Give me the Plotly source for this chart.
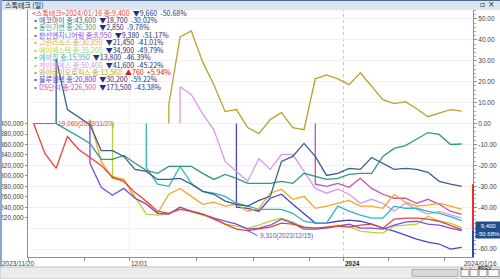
import plotly.graph_objects as go

# ---------------- data ----------------
dates = ["2023-11-20","2023-11-21","2023-11-22","2023-11-23","2023-11-24","2023-11-27","2023-11-28",
         "2023-11-29","2023-11-30","2023-12-01","2023-12-04","2023-12-05","2023-12-06","2023-12-07",
         "2023-12-08","2023-12-11","2023-12-12","2023-12-13","2023-12-14","2023-12-15","2023-12-18",
         "2023-12-19","2023-12-20","2023-12-21","2023-12-22","2023-12-26","2023-12-27","2023-12-28",
         "2024-01-02","2024-01-03","2024-01-04","2024-01-05","2024-01-08","2024-01-09","2024-01-10",
         "2024-01-11","2024-01-12","2024-01-15","2024-01-16"]

names = ["스톡테크", "에코마이", "동인기연", "한선엔지니어링", "그린리소스", "에이에스텍",
         "에이칩", "케이엔에스", "와이바이오로직스", "블루엠텍", "DS단석"]
colors = ["#e8413c", "#3d5c8f", "#2f9b7d", "#7a4fe0", "#f5a623", "#b5d334",
          "#2eb5c4", "#d89ae6", "#b9a32c", "#4646c8", "#c44fb5"]
closes = ["9,400", "43,600", "26,300", "8,950", "30,850", "35,200",
          "15,950", "50,400", "13,560", "20,800", "226,500"]
changes = ["▼9,660", "▼18,700", "▼2,850", "▼9,380", "▼21,450", "▼34,900",
           "▼13,800", "▼41,600", "▲760", "▼30,200", "▼173,500"]
pct_text = ["-50.68%", "-30.02%", "-9.78%", "-51.17%", "-41.01%", "-49.79%",
            "-46.39%", "-45.22%", "+5.94%", "-59.22%", "-43.38%"]

# percent change from each stock's base (first day in window = 0%)
stocktech = [0, -14.3, -21.4, -6.2, -12.4, -16.0, -20.0, -25.6, -27.6, -32.9, -37.1, -41.9, -42.9,
             -41.0, -41.9, -43.3, -45.7, -48.1, -50.5, -51.2, -50.5, -49.5, -47.6, -48.1, -49.5,
             -50.0, -49.5, -49.0, -49.5, -48.6, -48.1, -50.0, -45.7, -45.2, -45.2, -45.7, -46.7,
             -48.6, -50.68]
ecomai = [None, None, 31.0, 6.7, 3.3, -0.5, -12.9, -12.9, -15.7, -21.9, -22.9, -26.7, -26.7, -26.2,
          -29.0, -32.4, -33.8, -37.1, -38.6, -39.5, -36.7, -34.8, -18.1, -15.7, -9.5, -15.7, -24.8,
          -23.8, -21.4, -21.9, -16.2, -19.0, -21.9, -21.4, -21.9, -23.3, -27.6, -29.0, -30.02]
dongin = [None, None, 0.0, -2.9, -6.2, -9.5, -17.1, -17.1, -15.2, -19.0, -22.4, -23.8, -20.5, -20.5,
          -20.5, -23.8, -26.7, -24.3, -26.2, -28.6, -28.6, -28.6, -27.6, -28.6, -23.8, -25.2, -26.7,
          -26.2, -24.3, -23.8, -23.8, -15.7, -11.9, -10.5, -7.6, -4.3, -5.2, -10.0, -9.78]
hanseon = [None]*5 + [-19.0, -30.5, -34.3, -31.0, -35.7, -38.6, -42.9, -43.3, -40.0, -41.9, -43.3,
                      -45.2, -46.7, -48.1, -50.5, -50.0, -48.6, -45.7, -47.6, -50.5, -50.5, -50.0,
                      -49.0, -48.1, -50.0, -50.0, -50.5, -48.6, -47.1, -46.7, -48.1, -48.6, -50.0, -51.17]
green = [None]*5 + [2.0, -18.1, -26.2, -26.7, -35.7, -38.1, -42.9, -33.8, -31.0, -34.8, -38.6, -37.6,
                    -39.5, -38.6, -41.9, -40.5, -33.3, -31.4, -36.2, -34.8, -40.5, -39.5, -38.1, -36.7,
                    -39.5, -39.5, -40.5, -33.8, -37.6, -39.5, -39.0, -38.1, -39.5, -41.01]
astec = [None]*7 + [-25.2, -26.7, -35.2, -43.3, -43.8, -43.3, -40.0, -42.4, -43.8, -45.2, -48.1, -49.0,
                    -50.0, -48.6, -46.7, -45.2, -47.1, -49.5, -50.0, -49.5, -48.6, -49.0, -51.4, -52.0,
                    -52.4, -49.0, -48.6, -48.1, -44.3, -46.7, -47.6, -49.79]
achip = [None]*10 + [-21.0, -29.0, -30.0, -20.5, -28.6, -32.4, -33.3, -34.8, -38.1, -39.5, -41.0, -41.0,
                     -41.0, -42.9, -46.7, -47.6, -47.6, -39.5, -41.9, -43.8, -45.2, -45.2, -39.5, -40.5,
                     -40.5, -42.0, -42.9, -44.5, -46.39]
kns = [None]*13 + [17.6, 13.8, 4.8, -3.0, -18.1, -22.9, -27.6, -16.7, -21.9, -14.8, -14.8, -22.9, -31.0,
                   -33.3, -31.4, -33.8, -38.1, -36.2, -38.1, -41.9, -38.1, -41.0, -43.3, -42.0, -43.8, -45.22]
ybio = [None]*12 + [9.0, 41.4, 44.3, 29.5, 18.6, 5.7, 6.7, -1.9, -4.8, 1.9, 5.2, -1.9, -2.9, 21.4, 23.3,
                    21.4, 18.6, 24.3, 17.6, 11.4, 9.5, 10.5, 7.1, 3.3, 5.0, 6.7, 5.94]
bluem = [None]*18 + [-40.0, -40.5, -41.9, -35.7, -33.8, -38.6, -42.9, -47.6, -47.6, -46.7, -46.2, -46.7,
                     -48.1, -50.0, -51.4, -53.3, -55.2, -56.7, -57.6, -60.0, -59.22]
dsdanseok = [None]*25 + [-29.0, -30.0, -28.6, -30.5, -26.2, -31.0, -33.8, -35.7, -35.7, -38.1, -36.2,
                         -38.6, -41.9, -43.38]

series = [stocktech, ecomai, dongin, hanseon, green, astec, achip, kns, ybio, bluem, dsdanseok]

price_ticks = [400000, 380000, 360000, 340000, 320000, 300000, 280000, 260000, 240000, 220000]
base_price = 400000
pct_range = [-63.8, 54.3]

# ---------------- figure ----------------
W, H = 500, 279
ML, MR, MT, MB = 28, 27, 10, 22
PW, PH = W - ML - MR, H - MT - MB
NUMFONT = "Liberation Sans"

fig = go.Figure()
idx = list(range(len(dates)))

traces = []
for k, (name, col, vals) in enumerate(zip(names, colors, series)):
    start = next(i for i, v in enumerate(vals) if v is not None)
    xs = [idx[i] for i in range(start, len(vals))]
    ys = [vals[i] for i in range(start, len(vals))]
    if start > 0:  # newly listed: vertical from base 0%
        xs = [idx[start]] + xs
        ys = [0] + ys
    if k == 0:
        traces.append(go.Scatter(x=xs, y=[base_price * (1 + v / 100) for v in ys], yaxis="y2",
                                 mode="lines", name=name, line=dict(color=col, width=1.3),
                                 hoverinfo="skip"))
    else:
        traces.append(go.Scatter(x=xs, y=ys, mode="lines", name=name,
                                 line=dict(color=col, width=1.3), hoverinfo="skip"))
for t in traces[::-1]:
    fig.add_trace(t)

fig.update_layout(
    width=W, height=H, margin=dict(l=ML, r=MR, t=MT, b=MB, autoexpand=False),
    paper_bgcolor="white", plot_bgcolor="white", showlegend=False,
    font=dict(family=NUMFONT, size=6, color="#333333"),
    xaxis=dict(range=[-0.5, 39.0], showgrid=False, zeroline=False, automargin=False,
               showline=True, linecolor="#909090", linewidth=1,
               tickvals=[-0.5, 4.5, 8.5, 14.5, 19.5, 24.5, 27.5, 31.5, 36.5],
               ticktext=[""]*9, ticks="outside", ticklen=3, tickcolor="#909090"),
    yaxis=dict(range=pct_range, side="right", showline=True, linecolor="#909090", automargin=False,
               zeroline=False, showgrid=True, gridcolor="#f1f1f1",
               tickvals=list(range(-60, 51, 10)),
               ticktext=[f"{v:.2f}" for v in range(-60, 51, 10)],
               ticks="outside", ticklen=3, tickcolor="#909090", ticklabelstandoff=0,
               minor=dict(dtick=2, ticks="outside", ticklen=2, tickcolor="#b0b0b0", showgrid=False),
               tickfont=dict(family=NUMFONT, size=6.5, color="#404040")),
    yaxis2=dict(range=[base_price * (1 + pct_range[0] / 100), base_price * (1 + pct_range[1] / 100)],
                overlaying="y", side="left", showline=True, linecolor="#909090", showgrid=False,
                zeroline=False, automargin=False, tickvals=price_ticks,
                ticktext=[f"{v:,}" for v in price_ticks], ticklabelstandoff=0,
                ticks="outside", ticklen=2, tickcolor="#909090",
                tickfont=dict(family=NUMFONT, size=6.5, color="#404040")),
)

shapes = []
shapes.append(dict(type="line", xref="x", yref="paper", x0=8.5, x1=8.5, y0=0, y1=1,
                   line=dict(color="#eeeeee", width=1), layer="below"))
shapes.append(dict(type="line", xref="x", yref="paper", x0=27.5, x1=27.5, y0=0, y1=1,
                   line=dict(color="#c4c4c4", width=1, dash="dot"), layer="below"))
shapes.append(dict(type="line", xref="paper", yref="y", x0=1, x1=1, y0=-29, y1=stocktech[-1],
                   line=dict(color="#e83030", width=2)))
shapes.append(dict(type="line", xref="paper", yref="y", x0=1, x1=1, y0=stocktech[-1], y1=pct_range[0],
                   line=dict(color="#2a4fa0", width=2)))
top = 1 + MT / PH
shapes.append(dict(type="rect", xref="paper", yref="paper", x0=-ML / PW, x1=1 + MR / PW,
                   y0=1, y1=top, fillcolor="#dbe6f1", line=dict(width=0), layer="below"))
shapes.append(dict(type="line", xref="paper", yref="paper", x0=-ML / PW, x1=1 + MR / PW,
                   y0=top, y1=top, line=dict(color="#4a6a9a", width=2)))
shapes.append(dict(type="line", xref="paper", yref="paper", x0=-ML / PW + 1 / PW, x1=-ML / PW + 1 / PW,
                   y0=-MB / PH, y1=top, line=dict(color="#8aa8d0", width=2)))
yb0 = -(267 - (MT + PH)) / PH
yb1 = -(H - (MT + PH)) / PH
shapes.append(dict(type="rect", xref="paper", yref="paper", x0=-ML / PW, x1=1 + MR / PW,
                   y0=yb1, y1=yb0, fillcolor="#ececec", line=dict(color="#c0c0c0", width=1)))
shapes.append(dict(type="rect", xref="paper", yref="paper", x0=(412 - ML) / PW, x1=(458 - ML) / PW,
                   y0=yb1 + 0.01, y1=yb0 - 0.01, fillcolor="#d8d8d8", line=dict(color="#b0b0b0", width=1)))
for x0p, x1p in [(461, 469), (470, 478), (479, 487), (488, 499)]:
    shapes.append(dict(type="rect", xref="paper", yref="paper", x0=(x0p - ML) / PW, x1=(x1p - ML) / PW,
                       y0=yb1 + 0.01, y1=yb0 - 0.01, fillcolor="#fafafa",
                       line=dict(color="#909090", width=1)))
fig.update_layout(shapes=shapes)

ann = []
for i, (nm, col, cl, ch, pc) in enumerate(zip(names, colors, closes, changes, pct_text)):
    py = 12.7 + 7.4 * i
    ypap = (MT + PH - py) / PH
    label = f"&lt;{nm}&gt;2024/01/16 종:{cl}" if i == 0 else f"▪{nm} 종:{cl}"
    chc = "#d02020" if ch.startswith("▲") else "#22327a"
    txt = f"<span style='color:{col}'>{label}</span>  <span style='color:{chc}'>{ch}  {pc}</span>"
    ann.append(dict(xref="paper", yref="paper", x=0, y=ypap, xanchor="left", yanchor="middle",
                    xshift=2, showarrow=False, text=txt,
                    font=dict(family="Noto Sans CJK KR", size=7)))
ann.append(dict(xref="paper", yref="paper", x=-ML / PW, y=1 + (MT / 2) / PH, xanchor="left",
                yanchor="middle", xshift=3, showarrow=False, text="스톡테크 (일)",
                font=dict(family="Noto Sans CJK KR", size=7, color="#202020")))
ann.append(dict(xref="paper", yref="paper", x=1 + MR / PW, y=1 + (MT / 2) / PH, xanchor="right",
                yanchor="middle", xshift=-3, showarrow=False, text="▫ ×",
                font=dict(family="DejaVu Sans", size=8, color="#303030")))
ann.append(dict(xref="paper", yref="paper", x=-ML / PW, y=0, yanchor="top", xanchor="left", xshift=0,
                yshift=-1, showarrow=False, text="2023/11/20", font=dict(size=6.5, color="#404040")))
ann.append(dict(xref="x", yref="paper", x=8.5, y=0, yanchor="top", xanchor="left", yshift=-1,
                showarrow=False, text="12/01", font=dict(size=6.5, color="#404040")))
ann.append(dict(xref="x", yref="paper", x=27.5, y=0, yanchor="top", xanchor="left", yshift=-1,
                showarrow=False, text="<b>2024</b>", font=dict(size=6.5, color="#202020")))
ann.append(dict(xref="paper", yref="paper", x=1, y=0, yanchor="top", xanchor="right", xshift=MR - 1,
                yshift=-1, showarrow=False, text="2024/01/16", font=dict(size=6.5, color="#404040")))
ann.append(dict(xref="x", yref="y", x=0, y=stocktech[0], ax=22, ay=0, showarrow=True, arrowhead=0,
                arrowwidth=1, arrowcolor="#e8413c", xanchor="left", text="19,060(2023/11/20)",
                font=dict(size=6.5, color="#e8413c")))
low_i = min(range(len(stocktech)), key=lambda i: stocktech[i])
ann.append(dict(xref="x", yref="y", x=low_i, y=stocktech[low_i], ax=10, ay=5, showarrow=True,
                arrowhead=0, arrowwidth=1, arrowcolor="#5060c0", xanchor="left",
                text="9,310(2023/12/15)", font=dict(size=6.5, color="#5060c0")))
ann.append(dict(xref="paper", yref="y", x=1, y=stocktech[-1], xanchor="left", yanchor="middle",
                xshift=2, showarrow=False, text="9,400<br>-50.68%", bgcolor="#1f4e8c",
                font=dict(size=6, color="white"), borderpad=1))
for t, xpx in zip(["+", "−", "=", "PREV"], [465, 474, 483, 493.5]):
    ann.append(dict(xref="paper", yref="paper", x=(xpx - ML) / PW, y=(yb0 + yb1) / 2, showarrow=False,
                    text=t, font=dict(size=5, color="#202020")))
fig.update_layout(annotations=ann)

fig.write_html("out.html")
